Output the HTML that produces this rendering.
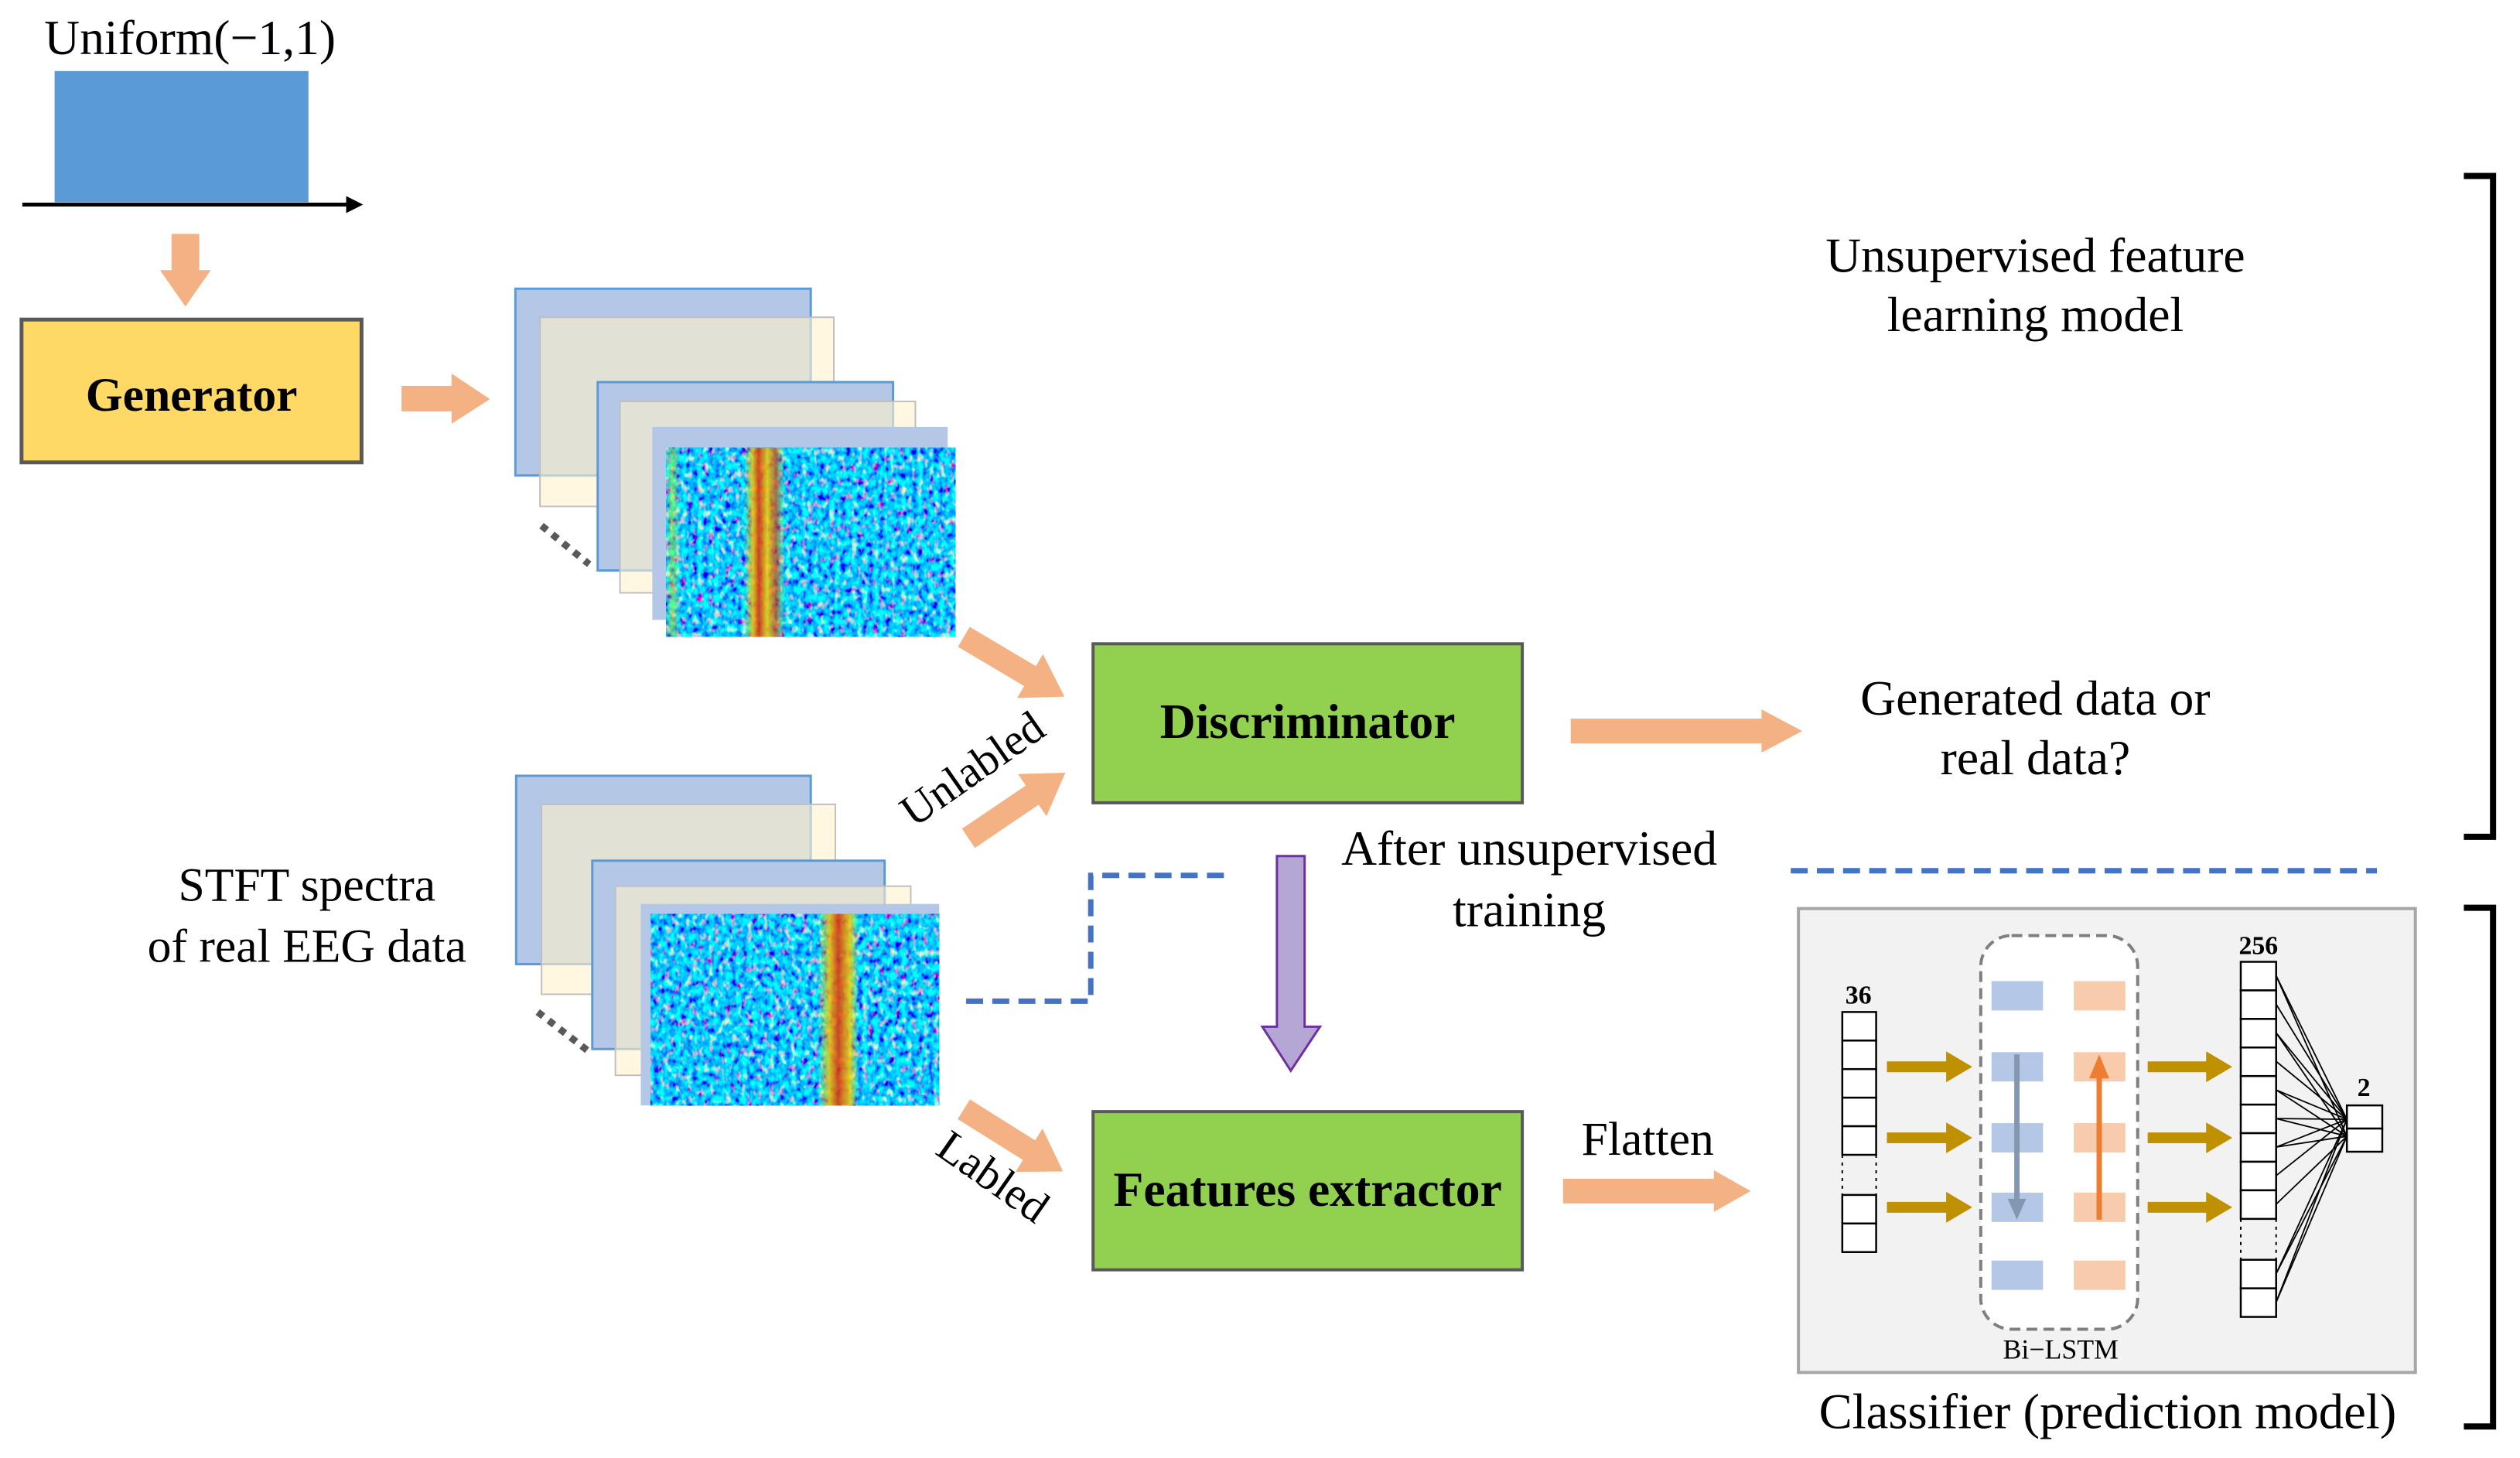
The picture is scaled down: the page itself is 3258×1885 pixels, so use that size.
<!DOCTYPE html>
<html><head><meta charset="utf-8"><style>
html,body{margin:0;padding:0;background:#fff;}
svg{display:block;}
text{font-family:"Liberation Serif",serif;fill:#000;}
</style></head><body>
<svg width="3258" height="1885" viewBox="0 0 3258 1885" xmlns="http://www.w3.org/2000/svg">
<defs>
<filter id="noise" x="0" y="0" width="100%" height="100%">
<feTurbulence type="fractalNoise" baseFrequency="0.14 0.1" numOctaves="2" seed="3" result="t"/>
<feColorMatrix in="t" type="matrix" values="2.6 0 0 0 -1.45  0 2.2 0 0 -0.55  -1.0 0 0 0 1.45  0 0 0 0 1"/>
</filter>
<linearGradient id="stripeA" x1="0" x2="1" y1="0" y2="0">
<stop offset="0" stop-color="#fff200" stop-opacity="0"/>
<stop offset="0.02" stop-color="#c8f000" stop-opacity="0.5"/>
<stop offset="0.05" stop-color="#fff200" stop-opacity="0"/>
<stop offset="0.27" stop-color="#ffe000" stop-opacity="0"/>
<stop offset="0.3" stop-color="#f8c000" stop-opacity="0.85"/>
<stop offset="0.32" stop-color="#e83000" stop-opacity="0.85"/>
<stop offset="0.35" stop-color="#f8d000" stop-opacity="0.85"/>
<stop offset="0.38" stop-color="#e04000" stop-opacity="0.7"/>
<stop offset="0.41" stop-color="#ffe000" stop-opacity="0"/>
<stop offset="1" stop-color="#ffe000" stop-opacity="0"/>
</linearGradient>
<linearGradient id="stripeB" x1="0" x2="1" y1="0" y2="0">
<stop offset="0" stop-color="#ffe000" stop-opacity="0"/>
<stop offset="0.58" stop-color="#ffe000" stop-opacity="0"/>
<stop offset="0.62" stop-color="#f8c000" stop-opacity="0.85"/>
<stop offset="0.65" stop-color="#e83000" stop-opacity="0.85"/>
<stop offset="0.69" stop-color="#f8d000" stop-opacity="0.85"/>
<stop offset="0.72" stop-color="#ffe000" stop-opacity="0"/>
<stop offset="1" stop-color="#ffe000" stop-opacity="0"/>
</linearGradient>
</defs>
<g transform="scale(0.9945 0.998)">

<!-- Uniform -->
<text x="247" y="70" font-size="64" text-anchor="middle">Uniform(−1,1)</text>
<rect x="71" y="92" width="330" height="170" fill="#5b9bd5"/>
<line x1="29" y1="265" x2="452" y2="265" stroke="#000" stroke-width="5"/>
<polygon points="450,254 472,265 450,276" fill="#000"/>
<polygon points="223,303 259,303 259,350 274,350 241,397 208,350 223,350" fill="#f4b183"/>

<!-- Generator -->
<rect x="28" y="414" width="442" height="185" fill="#ffd966" stroke="#595959" stroke-width="5"/>
<text x="249" y="532" font-size="62" font-weight="bold" text-anchor="middle">Generator</text>
<polygon points="522,500 587,500 587,484 637,517 587,549 587,533 522,533" fill="#f4b183"/>

<!-- top stack -->
<rect x="670" y="374" width="384" height="242" fill="#b4c7e7" stroke="#5b9bd5" stroke-width="3"/>
<rect x="702" y="411" width="382" height="245" fill="#fff2cc" fill-opacity="0.6" stroke="#bfbfbf" stroke-width="2"/>
<rect x="777" y="495" width="384" height="244" fill="#b4c7e7" stroke="#5b9bd5" stroke-width="3"/>
<rect x="806" y="520" width="384" height="248" fill="#fff2cc" fill-opacity="0.6" stroke="#bfbfbf" stroke-width="2"/>
<rect x="848" y="553" width="384" height="250" fill="#b4c7e7"/>
<rect x="866" y="580" width="376" height="245" fill="#1040e0"/>
<rect x="866" y="580" width="376" height="245" filter="url(#noise)"/>
<rect x="866" y="580" width="376" height="245" fill="url(#stripeA)"/>
<line x1="704" y1="681" x2="766" y2="731" stroke="#595959" stroke-width="9" stroke-dasharray="9,9"/>

<!-- bottom stack -->
<rect x="671" y="1005" width="383" height="244" fill="#b4c7e7" stroke="#5b9bd5" stroke-width="3"/>
<rect x="704" y="1042" width="382" height="246" fill="#fff2cc" fill-opacity="0.6" stroke="#bfbfbf" stroke-width="2"/>
<rect x="770" y="1115" width="380" height="244" fill="#b4c7e7" stroke="#5b9bd5" stroke-width="3"/>
<rect x="800" y="1148" width="384" height="245" fill="#fff2cc" fill-opacity="0.6" stroke="#bfbfbf" stroke-width="2"/>
<rect x="833" y="1171" width="388" height="261" fill="#b4c7e7"/>
<rect x="846" y="1184" width="375" height="248" fill="#1040e0"/>
<rect x="846" y="1184" width="375" height="248" filter="url(#noise)"/>
<rect x="846" y="1184" width="375" height="248" fill="url(#stripeB)"/>
<line x1="699" y1="1311" x2="764" y2="1361" stroke="#595959" stroke-width="9" stroke-dasharray="9,9"/>

<text x="399" y="1167" font-size="62" text-anchor="middle">STFT spectra</text>
<text x="399" y="1246" font-size="62" text-anchor="middle">of real EEG data</text>

<!-- diagonal arrows -->
<g transform="translate(1253,825) rotate(30.6)"><polygon points="0,-15 100,-15 100,-33 152,0 100,33 100,15 0,15" fill="#f4b183"/></g>
<g transform="translate(1259,1086) rotate(-34)"><polygon points="0,-15 100,-15 100,-33 152,0 100,33 100,15 0,15" fill="#f4b183"/></g>
<g transform="translate(1253,1437) rotate(32)"><polygon points="0,-15 100,-15 100,-33 152,0 100,33 100,15 0,15" fill="#f4b183"/></g>
<text transform="translate(1275,1012) rotate(-35)" font-size="58" text-anchor="middle">Unlabled</text>
<text transform="translate(1280,1540) rotate(35)" font-size="58" text-anchor="middle">Labled</text>

<!-- Discriminator -->
<rect x="1421" y="834" width="558" height="206" fill="#92d050" stroke="#595959" stroke-width="4"/>
<text x="1700" y="956" font-size="64" font-weight="bold" text-anchor="middle">Discriminator</text>
<polygon points="2042,931 2290,931 2290,919 2343,947 2290,975 2290,963 2042,963" fill="#f4b183"/>
<text x="2646" y="926" font-size="64" text-anchor="middle">Generated data or</text>
<text x="2646" y="1003" font-size="64" text-anchor="middle">real data?</text>
<text x="2646" y="352" font-size="64" text-anchor="middle">Unsupervised feature</text>
<text x="2646" y="429" font-size="64" text-anchor="middle">learning model</text>

<!-- brackets -->
<polyline points="3203,228 3241,228 3241,1084 3203,1084" fill="none" stroke="#000" stroke-width="8"/>
<polyline points="3203,1176 3241,1176 3241,1848 3203,1848" fill="none" stroke="#000" stroke-width="8"/>

<!-- dashed lines -->
<line x1="2328" y1="1128" x2="3090" y2="1128" stroke="#4472c4" stroke-width="7" stroke-dasharray="22,12"/>
<polyline points="1591,1134 1418,1134 1418,1297 1247,1297" fill="none" stroke="#4472c4" stroke-width="7" stroke-dasharray="22,12"/>

<!-- purple arrow -->
<polygon points="1660,1109 1696,1109 1696,1330 1716,1330 1678,1387 1641,1330 1660,1330" fill="#b4a7d6" stroke="#7030a0" stroke-width="3"/>
<text x="1988" y="1120" font-size="64" text-anchor="middle">After unsupervised</text>
<text x="1988" y="1200" font-size="64" text-anchor="middle">training</text>

<!-- Features extractor -->
<rect x="1421" y="1440" width="558" height="205" fill="#92d050" stroke="#595959" stroke-width="4"/>
<text x="1700" y="1562" font-size="64" font-weight="bold" text-anchor="middle">Features extractor</text>
<text x="2142" y="1496" font-size="62" text-anchor="middle">Flatten</text>
<polygon points="2032,1527 2228,1527 2228,1516 2276,1543 2228,1570 2228,1559 2032,1559" fill="#f4b183"/>

<!-- Classifier -->
<rect x="2338" y="1177" width="802" height="601" fill="#f2f2f2" stroke="#a6a6a6" stroke-width="4"/>
<text x="2740" y="1850" font-size="65" text-anchor="middle">Classifier (prediction model)</text>

<!-- 36 column -->
<text x="2416" y="1300" font-size="34" font-weight="bold" text-anchor="middle">36</text>
<g fill="#fff" stroke="#000" stroke-width="2.5">
<rect x="2395" y="1311" width="44" height="37"/><rect x="2395" y="1348" width="44" height="37"/>
<rect x="2395" y="1385" width="44" height="37"/><rect x="2395" y="1422" width="44" height="37"/>
<rect x="2395" y="1459" width="44" height="37"/>
<rect x="2395" y="1548" width="44" height="37"/><rect x="2395" y="1585" width="44" height="37"/>
</g>
<line x1="2395" y1="1496" x2="2395" y2="1548" stroke="#000" stroke-width="2" stroke-dasharray="4,6"/>
<line x1="2439" y1="1496" x2="2439" y2="1548" stroke="#000" stroke-width="2" stroke-dasharray="4,6"/>

<!-- gold arrows -->
<g fill="#bf9000">
<polygon points="2453,1375 2530,1375 2530,1362 2564,1382 2530,1402 2530,1389 2453,1389"/>
<polygon points="2453,1467 2530,1467 2530,1454 2564,1474 2530,1494 2530,1481 2453,1481"/>
<polygon points="2453,1557 2530,1557 2530,1544 2564,1564 2530,1584 2530,1571 2453,1571"/>
<polygon points="2792,1375 2868,1375 2868,1362 2902,1382 2868,1402 2868,1389 2792,1389"/>
<polygon points="2792,1467 2868,1467 2868,1454 2902,1474 2868,1494 2868,1481 2792,1481"/>
<polygon points="2792,1557 2868,1557 2868,1544 2902,1564 2868,1584 2868,1571 2792,1571"/>
</g>

<!-- Bi-LSTM -->
<rect x="2575" y="1212" width="204" height="510" rx="40" fill="#fff" stroke="#7f7f7f" stroke-width="4" stroke-dasharray="14,8"/>
<g fill="#b4c7e7">
<rect x="2589" y="1271" width="67" height="38"/><rect x="2589" y="1363" width="67" height="38"/>
<rect x="2589" y="1455" width="67" height="38"/><rect x="2589" y="1545" width="67" height="38"/>
<rect x="2589" y="1633" width="67" height="38"/>
</g>
<g fill="#f8cbad">
<rect x="2696" y="1271" width="67" height="38"/><rect x="2696" y="1363" width="67" height="38"/>
<rect x="2696" y="1455" width="67" height="38"/><rect x="2696" y="1545" width="67" height="38"/>
<rect x="2696" y="1633" width="67" height="38"/>
</g>
<line x1="2622" y1="1366" x2="2622" y2="1555" stroke="#8497b0" stroke-width="7"/>
<polygon points="2610,1553 2634,1553 2622,1580" fill="#8497b0"/>
<line x1="2729" y1="1580" x2="2729" y2="1395" stroke="#ed7d31" stroke-width="7"/>
<polygon points="2716,1397 2742,1397 2729,1366" fill="#ed7d31"/>
<text x="2679" y="1760" font-size="36" text-anchor="middle" fill="#262626">Bi−LSTM</text>

<!-- 256 column -->
<text x="2936" y="1236" font-size="34" font-weight="bold" text-anchor="middle">256</text>
<g fill="#fff" stroke="#000" stroke-width="2.5">
<rect x="2913" y="1246" width="46" height="37"/><rect x="2913" y="1283" width="46" height="37"/>
<rect x="2913" y="1320" width="46" height="37"/><rect x="2913" y="1357" width="46" height="37"/>
<rect x="2913" y="1394" width="46" height="37"/><rect x="2913" y="1431" width="46" height="37"/>
<rect x="2913" y="1468" width="46" height="37"/><rect x="2913" y="1505" width="46" height="37"/>
<rect x="2913" y="1542" width="46" height="37"/>
<rect x="2913" y="1632" width="46" height="37"/><rect x="2913" y="1669" width="46" height="37"/>
</g>
<line x1="2913" y1="1579" x2="2913" y2="1632" stroke="#000" stroke-width="2" stroke-dasharray="4,6"/>
<line x1="2959" y1="1579" x2="2959" y2="1632" stroke="#000" stroke-width="2" stroke-dasharray="4,6"/>
<g stroke="#000" stroke-width="1.8">
<line x1="2959" y1="1264" x2="3051" y2="1450"/><line x1="2959" y1="1301" x2="3051" y2="1450"/>
<line x1="2959" y1="1338" x2="3051" y2="1450"/><line x1="2959" y1="1375" x2="3051" y2="1450"/>
<line x1="2959" y1="1412" x2="3051" y2="1450"/><line x1="2959" y1="1449" x2="3051" y2="1450"/>
<line x1="2959" y1="1486" x2="3051" y2="1450"/><line x1="2959" y1="1523" x2="3051" y2="1450"/>
<line x1="2959" y1="1650" x2="3051" y2="1450"/><line x1="2959" y1="1687" x2="3051" y2="1450"/>
<line x1="2959" y1="1264" x2="3051" y2="1472"/><line x1="2959" y1="1338" x2="3051" y2="1472"/>
<line x1="2959" y1="1412" x2="3051" y2="1472"/><line x1="2959" y1="1449" x2="3051" y2="1472"/>
<line x1="2959" y1="1486" x2="3051" y2="1472"/><line x1="2959" y1="1560" x2="3051" y2="1472"/>
<line x1="2959" y1="1650" x2="3051" y2="1472"/><line x1="2959" y1="1687" x2="3051" y2="1472"/>
</g>
<text x="3073" y="1420" font-size="34" font-weight="bold" text-anchor="middle">2</text>
<g fill="#fff" stroke="#000" stroke-width="2.5">
<rect x="3051" y="1432" width="46" height="30"/><rect x="3051" y="1462" width="46" height="30"/>
</g>
</g>
</svg>
</body></html>
